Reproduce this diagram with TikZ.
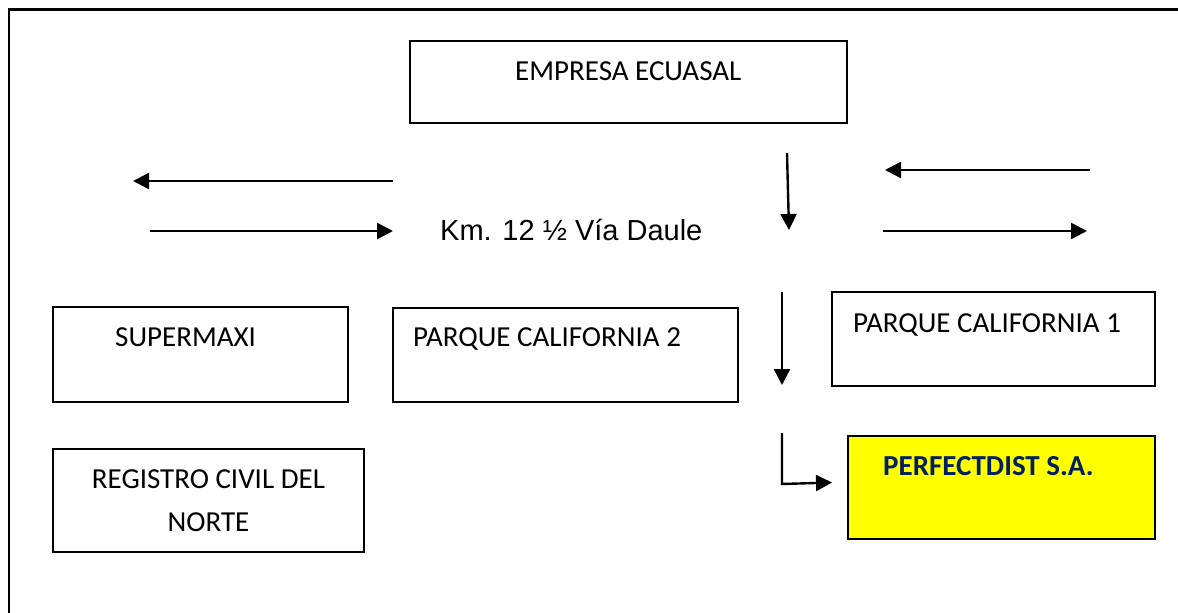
\documentclass[tikz,border=0pt]{standalone}
\usepackage{fontspec}
\setmainfont{Carlito}
\newfontfamily\arialfont{Liberation Sans}
\usetikzlibrary{arrows.meta}
\definecolor{navytext}{HTML}{002060}
\definecolor{boxyellow}{HTML}{FFFF00}
\begin{document}
\begin{tikzpicture}[x=1pt,y=-1pt,
  boxnode/.style={draw=black, line width=2.2pt, inner sep=0pt, outer sep=0pt, anchor=north west},
  lbl/.style={anchor=base west, inner sep=0pt, font=\fontsize{29}{43}\selectfont},
  arr/.style={line width=2.4pt, -{Triangle[length=16pt,width=16pt]}}]
\useasboundingbox (0,0) rectangle (1178,613);
% frame (top and left)
\draw[line width=2.5pt] (9,613) -- (9,9.5) -- (1178,9.5);
% boxes
\node[boxnode, minimum width=437pt, minimum height=82pt] (emp) at (410,41) {};
\node[boxnode, minimum width=295pt, minimum height=95pt] (sup) at (53,307) {};
\node[boxnode, minimum width=345pt, minimum height=94pt] (pc2) at (393,308) {};
\node[boxnode, minimum width=323pt, minimum height=94pt] (pc1) at (832,292) {};
\node[boxnode, minimum width=311pt, minimum height=103pt] (reg) at (53,449) {};
\node[boxnode, fill=boxyellow, minimum width=307pt, minimum height=103pt] (per) at (848,436) {};
% labels
\node[lbl] (tEmp) at (515,80.5) {EMPRESA ECUASAL};
\node[lbl] (tSup) at (115,346.5) {SUPERMAXI};
\node[lbl] (tPc2) at (413,346.5) {PARQUE CALIFORNIA 2};
\node[lbl] (tPc1) at (853,332) {PARQUE CALIFORNIA 1};
\node[lbl, anchor=base, align=center] (tReg) at (208.5,531.5) {REGISTRO CIVIL DEL\\NORTE};
\node[lbl, text=navytext, font=\fontsize{29}{43}\selectfont\bfseries] (tPer) at (883,475) {PERFECTDIST S.A.};
\node[lbl, font=\arialfont\fontsize{29}{35}\selectfont] (tKm) at (440,240) {Km. 12 ½ Vía Daule};
% arrow end points
\coordinate (a1s) at (393,181); \coordinate (a1e) at (133,181);
\coordinate (a2s) at (150,231); \coordinate (a2e) at (393,231);
\coordinate (a3s) at (787,153); \coordinate (a3e) at (789,230);
\coordinate (a4s) at (1090,170); \coordinate (a4e) at (885,170);
\coordinate (a5s) at (883,231); \coordinate (a5e) at (1087,231);
\coordinate (a6s) at (782,292); \coordinate (a6e) at (782,385);
\coordinate (a7s) at (782,433); \coordinate (a7m) at (782,484); \coordinate (a7e) at (832,482.5);
% arrows
\draw[arr] (a1s) -- (a1e);
\draw[arr] (a2s) -- (a2e);
\draw[arr] (a3s) -- (a3e);
\draw[arr] (a4s) -- (a4e);
\draw[arr] (a5s) -- (a5e);
\draw[arr] (a6s) -- (a6e);
\draw[arr] (a7s) -- (a7m) -- (a7e);
\end{tikzpicture}
\end{document}
